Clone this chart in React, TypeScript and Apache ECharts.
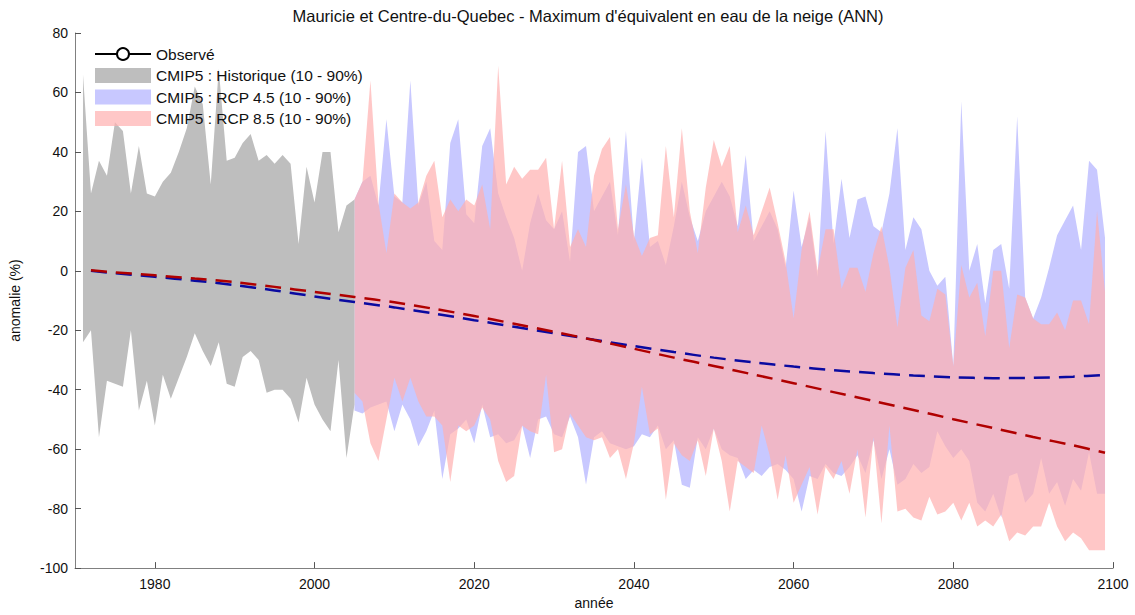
import React, { useEffect, useRef } from "react";
import * as echarts from "echarts";

const TITLE = "Mauricie et Centre-du-Quebec - Maximum d'équivalent en eau de la neige (ANN)";
const X_NAME = "année";
const Y_NAME = "anomalie (%)";
const FONT = "'Liberation Sans', Arial, sans-serif";

const X_FIRST = 1970;
const X_LAST = 2100;
const Y_TICKS = [-100, -80, -60, -40, -20, 0, 20, 40, 60, 80];

const NAME_OBS = "Observé";
const NAME_HIST = "CMIP5 : Historique (10 - 90%)";
const NAME_45 = "CMIP5 : RCP 4.5 (10 - 90%)";
const NAME_85 = "CMIP5 : RCP 8.5 (10 - 90%)";

// Historical band, 1971 - 2005
const HIST_START = 1971;
const histUpper = [
  66, 26, 37, 32, 50, 47, 26, 42, 26, 25,
  30, 33, 40, 48, 62, 56, 29, 68, 37, 38,
  43, 46, 37, 39, 36, 39, 36, 9, 35, 23,
  40, 40, 13, 22, 24,
];
const histLower = [
  -24, -20, -56, -37, -38, -39, -20, -47, -37, -52,
  -35, -43, -36, -29, -21, -27, -32, -24, -38, -39,
  -29, -27, -30, -41, -40, -40, -43, -51, -36, -45,
  -50, -54, -30, -63, -45,
];

// Projection bands, 2005 - 2099
const RCP_START = 2005;
const rcp45Upper = [
  24, 30, 32, 22, 51, 25, 23, 64, 22, 30,
  10, 7, 43, 51, 19, 16, 42, 48, 26, 18,
  11, 0, 16, 26, 17, 14, 20, 3, 40, 42,
  20, 25, 30, 12, 47, 10, 38, 8, 10, 2,
  15, 30, 18, 10, 20, 25, 30, 25, 15, 39,
  10, 15, 20, 14, 1, 27, 8, 18, -2, 47,
  9, 31, 11, 24, 25, 15, 13, 26, 48, 7,
  18, 14, 0, -5, -2, -32, 57, 0, 9, -11,
  7, 9, -6, 52, -9, -16, -9, 1, 12, 17,
  22, 7, 37, 34, 11,
];
const rcp45Lower = [
  -47, -48, -46, -45, -44, -54, -45, -50, -59, -54,
  -47, -70, -55, -53, -50, -58, -45, -56, -55, -58,
  -57, -52, -63, -50, -49, -55, -56, -49, -56, -72,
  -56, -54, -58, -59, -60, -59, -55, -56, -52, -60,
  -57, -72, -73, -56, -60, -53, -60, -62, -63, -70,
  -67, -69, -66, -65, -67, -70, -81, -69, -70, -65,
  -68, -69, -66, -62, -68, -57, -70, -60, -72, -70,
  -65, -68, -66, -54, -59, -63, -60, -64, -78, -81,
  -75, -83, -69, -68, -78, -75, -63, -75, -71, -79,
  -70, -74, -61, -75, -75,
];
const rcp85Upper = [
  24, 30, 64, 23, 6, 26, 23, 21, 23, 32,
  37, 18, 24, 20, 24, 22, 29, 14, 69, 29,
  35, 31, 34, 34, 38, 14, 37, 8, 14, 8,
  32, 41, 45, 14, 29, 12, 5, 11, 12, 42,
  18, 48, 20, 6, 28, 44, 35, 42, 13, 22,
  12, 20, 28, 16, 3, -16, 7, 20, 0, 14,
  14, -6, 1, 1, -7, 6, 15, 1, -19, 1,
  7, -15, -17, -6, -8, -32, 2, -9, -4, -22,
  0, 0, -26, -8, -9, -16, -18, -18, -14, -20,
  -10, -10, -18, 20, -7,
];
const rcp85Lower = [
  -41, -44, -58, -64, -50, -36, -44, -36, -44, -49,
  -49, -52, -71, -52, -54, -52, -46, -50, -64, -71,
  -69, -52, -54, -55, -35, -61, -60, -48, -52, -56,
  -57, -56, -63, -60, -70, -58, -39, -55, -53, -77,
  -58, -62, -64, -57, -69, -53, -64, -81, -64, -66,
  -68, -52, -62, -77, -62, -78, -72, -66, -82, -66,
  -70, -64, -75, -60, -83, -56, -85, -52, -81, -80,
  -83, -84, -76, -82, -81, -78, -84, -78, -86, -84,
  -86, -82, -91, -88, -89, -86, -86, -78, -86, -91,
  -88, -90, -94, -94, -94,
];

// Ensemble medians (smooth dashed curves)
const medianYears = [
  1972, 1975, 1980, 1985, 1990, 1995, 2000, 2005, 2010, 2015,
  2020, 2025, 2030, 2035, 2040, 2045, 2050, 2055, 2060, 2065,
  2070, 2075, 2080, 2085, 2090, 2095, 2099,
];
const rcp45Median = [
  0.0, -0.8, -2.0, -3.3, -4.8, -6.6, -8.6, -10.5, -12.3, -14.4,
  -16.6, -18.8, -21.0, -23.2, -25.3, -27.3, -29.2, -30.8, -32.2, -33.4,
  -34.4, -35.2, -35.8, -36.1, -36.0, -35.6, -35.0,
];
const rcp85Median = [
  0.2, -0.5, -1.5, -2.6, -3.8, -5.4, -7.1, -8.8, -10.6, -12.8,
  -15.2, -17.8, -20.5, -23.3, -26.2, -29.2, -32.0, -34.9, -37.8, -40.8,
  -43.8, -46.8, -49.9, -52.9, -55.9, -58.7, -61.2,
];

const COLOR_HIST = "#bebebe";
const COLOR_45 = "#c8c8ff";
const COLOR_85 = "rgba(255,175,175,0.7)";
const COLOR_MED45 = "#0a0aa0";
const COLOR_MED85 = "#b00000";

function buildOption() {
  const cats: string[] = [];
  for (let y = X_FIRST; y <= X_LAST; y++) cats.push(String(y));
  const n = cats.length;
  const place = (start: number, vals: number[]) => {
    const out: (number | null)[] = new Array(n).fill(null);
    vals.forEach((v, i) => {
      out[start - X_FIRST + i] = v;
    });
    return out;
  };
  const diff = (start: number, up: number[], lo: number[]) =>
    place(start, up.map((u, i) => u - lo[i]));
  const sparse = (yrs: number[], vals: number[]) => {
    const out: (number | null)[] = new Array(n).fill(null);
    yrs.forEach((y, i) => {
      out[y - X_FIRST] = vals[i];
    });
    return out;
  };

  const band = (
    name: string,
    stack: string,
    start: number,
    up: number[],
    lo: number[],
    color: string,
    z: number
  ) => [
    {
      type: "line",
      name: name + "_low",
      stack,
      stackStrategy: "all",
      data: place(start, lo),
      symbol: "none",
      lineStyle: { opacity: 0, width: 0 },
      silent: true,
      z,
    },
    {
      type: "line",
      name,
      stack,
      stackStrategy: "all",
      data: diff(start, up, lo),
      symbol: "none",
      lineStyle: { opacity: 0, width: 0 },
      areaStyle: { color, opacity: 1 },
      itemStyle: { color },
      silent: true,
      z,
    },
  ];

  const tickEvery20 = (index: number) => (X_FIRST + index) % 20 === 0;

  return {
    animation: false,
    backgroundColor: "#ffffff",
    textStyle: { fontFamily: FONT },
    title: {
      text: TITLE,
      left: 583,
      top: 2,
      textAlign: "center",
      textStyle: { fontSize: 16.5, fontWeight: "normal", color: "#111", fontFamily: FONT },
    },
    grid: { left: 74, right: 22, top: 33, bottom: 39, containLabel: false },
    legend: {
      orient: "vertical",
      left: 89,
      top: 41,
      itemWidth: 56,
      itemHeight: 15,
      itemGap: 5.5,
      selectedMode: false,
      textStyle: { fontSize: 15.5, color: "#111", fontFamily: FONT },
      data: [
        { name: NAME_OBS },
        { name: NAME_HIST, icon: "rect" },
        { name: NAME_45, icon: "rect" },
        { name: NAME_85, icon: "rect" },
      ],
    },
    xAxis: {
      type: "category",
      data: cats,
      boundaryGap: false,
      name: X_NAME,
      nameLocation: "middle",
      nameGap: 23,
      nameTextStyle: { fontSize: 14, color: "#111", fontFamily: FONT },
      axisLine: { onZero: false, lineStyle: { color: "#808080", width: 1 } },
      axisTick: { inside: true, length: 6, interval: tickEvery20, lineStyle: { color: "#555" } },
      axisLabel: { interval: tickEvery20, fontSize: 14, color: "#111", margin: 9, fontFamily: FONT },
      splitLine: { show: false },
    },
    yAxis: {
      type: "value",
      min: Y_TICKS[0],
      max: Y_TICKS[Y_TICKS.length - 1],
      interval: 20,
      name: Y_NAME,
      nameLocation: "middle",
      nameGap: 53,
      nameRotate: 90,
      nameTextStyle: { fontSize: 14, color: "#111", fontFamily: FONT },
      axisLine: { show: true, onZero: false, lineStyle: { color: "#808080", width: 1 } },
      axisTick: { show: true, inside: true, length: 6, lineStyle: { color: "#555" } },
      axisLabel: { fontSize: 14, color: "#111", margin: 7, fontFamily: FONT },
      splitLine: { show: false },
    },
    series: [
      ...band(NAME_45, "b45", RCP_START, rcp45Upper, rcp45Lower, COLOR_45, 1),
      ...band(NAME_85, "b85", RCP_START, rcp85Upper, rcp85Lower, COLOR_85, 2),
      ...band(NAME_HIST, "bh", HIST_START, histUpper, histLower, COLOR_HIST, 3),
      {
        type: "line",
        name: "med45",
        data: sparse(medianYears, rcp45Median),
        connectNulls: true,
        smooth: 0.3,
        symbol: "none",
        lineStyle: { color: COLOR_MED45, width: 2.5, type: [16, 9] },
        silent: true,
        z: 5,
      },
      {
        type: "line",
        name: "med85",
        data: sparse(medianYears, rcp85Median),
        connectNulls: true,
        smooth: 0.3,
        symbol: "none",
        lineStyle: { color: COLOR_MED85, width: 2.5, type: [16, 9] },
        silent: true,
        z: 5,
      },
      {
        type: "line",
        name: NAME_OBS,
        data: [],
        symbol: "emptyCircle",
        symbolSize: 9,
        itemStyle: { color: "#000", borderColor: "#000" },
        lineStyle: { color: "#000", width: 1.3 },
        z: 6,
      },
    ],
  };
}

export default function App() {
  const ref = useRef<HTMLDivElement | null>(null);
  useEffect(() => {
    if (!ref.current) return;
    const chart = echarts.init(ref.current, undefined, { renderer: "svg" });
    chart.setOption(buildOption() as any);
    return () => chart.dispose();
  }, []);
  return (
    <div
      ref={ref}
      style={{ position: "absolute", left: 0, top: 0, width: 1135, height: 615, background: "#fff" }}
    />
  );
}
